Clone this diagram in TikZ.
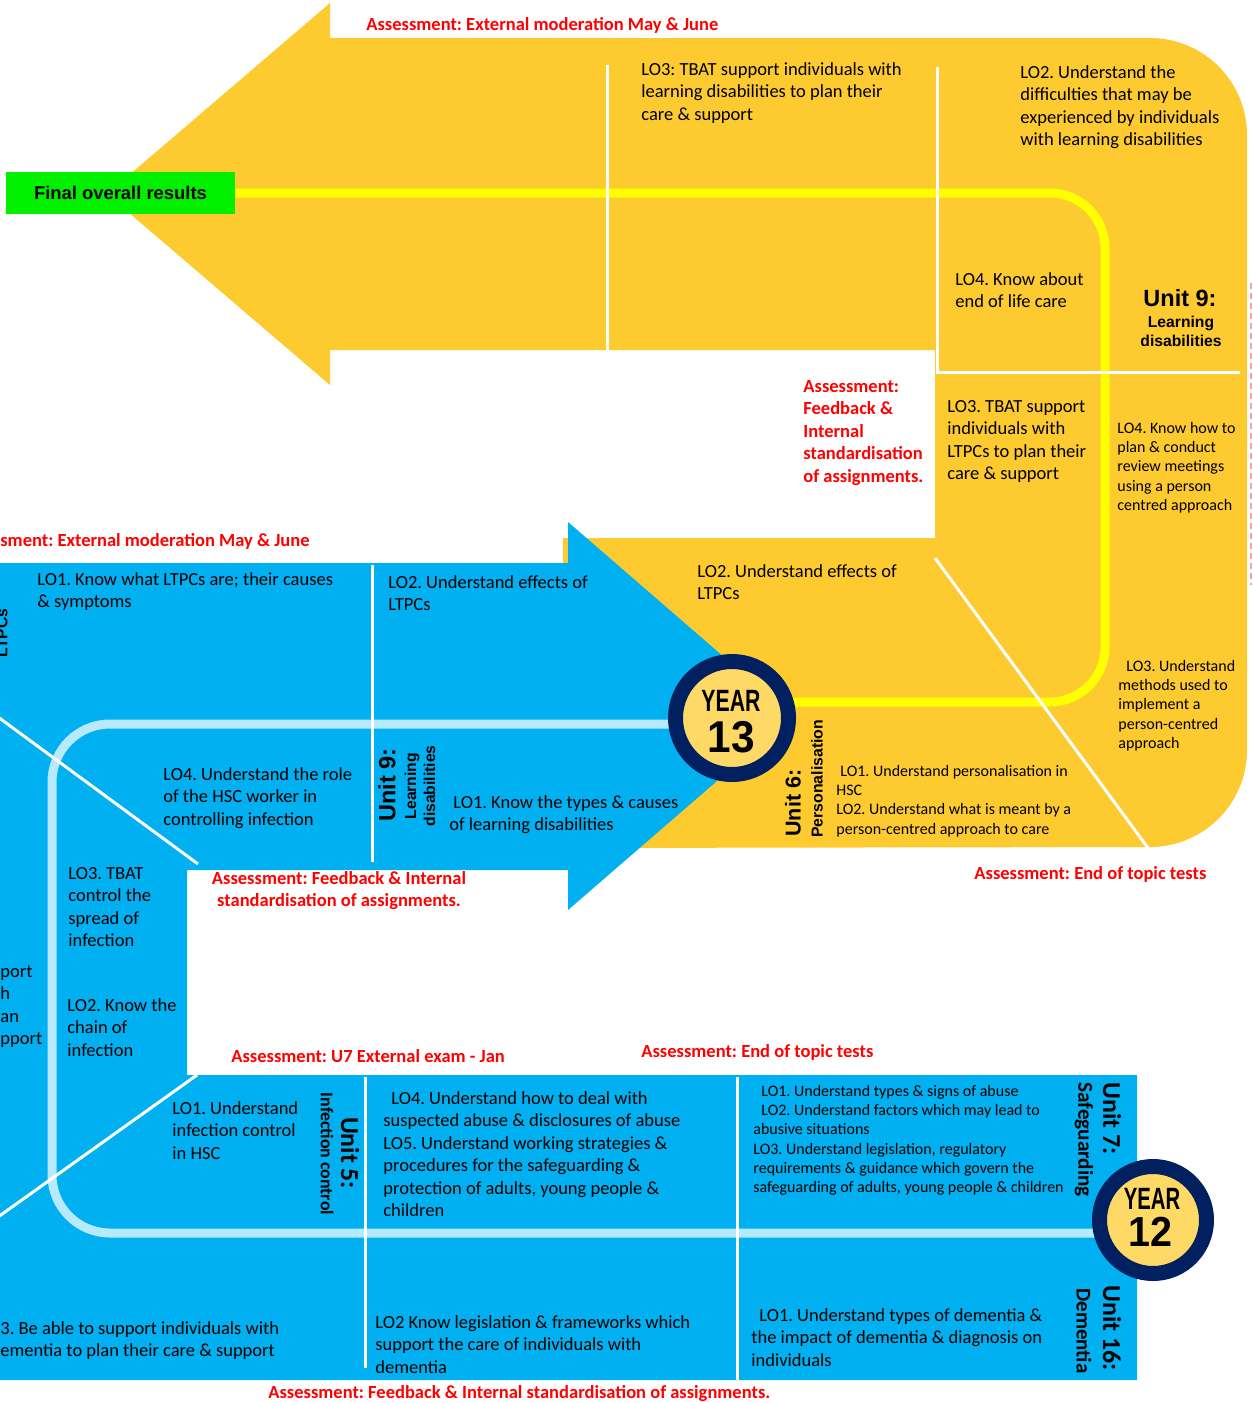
\documentclass[tikz,border=0pt]{standalone}
\usepackage{fontspec}
\setmainfont{Carlito}
\newfontfamily\arialf{Liberation Sans}
\definecolor{cyel}{RGB}{253,202,48}
\definecolor{cblue}{RGB}{0,176,240}
\definecolor{clblue}{RGB}{183,233,255}
\definecolor{cline}{RGB}{255,255,0}
\definecolor{cnavy}{RGB}{0,32,96}
\definecolor{cinner}{RGB}{255,217,102}
\definecolor{cred}{RGB}{255,0,0}
\definecolor{cgreen}{RGB}{0,240,0}
\definecolor{cpink}{RGB}{250,160,170}
\begin{document}
\frenchspacing
\begin{tikzpicture}[x=0.5pt,y=-0.5pt,
  lo/.style={anchor=north west, inner sep=0pt, align=left, font=\fontsize{9.25}{11.25}\selectfont},
  los/.style={anchor=north west, inner sep=0pt, align=left, font=\fontsize{8}{9.6}\selectfont},
  asmt/.style={anchor=north west, inner sep=0pt, align=left, text=cred, font=\bfseries\fontsize{9.25}{11.25}\selectfont},
  wline/.style={draw=white, line width=1.5pt},
  unitA/.style={inner sep=0pt, font=\arialf\bfseries\fontsize{11.75}{14}\selectfont},
  subA/.style={inner sep=0pt, align=center, font=\arialf\bfseries\fontsize{7.85}{9.5}\selectfont},
  unitC/.style={inner sep=0pt, font=\bfseries\fontsize{12.9}{15}\selectfont},
  subC/.style={inner sep=0pt, font=\bfseries\fontsize{10.6}{12}\selectfont},
  yearring/.style={circle, draw=cnavy, line width=7.5pt, fill=cinner, inner sep=0pt},
  yeartxt/.style={inner sep=0pt, font=\arialf\bfseries\fontsize{15.4}{16}\selectfont},
  numtxt/.style={inner sep=0pt, font=\arialf\bfseries\fontsize{22.3}{24}\selectfont},
]
\useasboundingbox (0,0) rectangle (1253,1403);
\clip (0,0) rectangle (1253,1403);
\coordinate (c13) at (732,718);
\coordinate (c12) at (1153,1220);

% yellow shape
\fill[cyel] (107,194) -- (330,3) -- (330,38) -- (1150,38)
  arc[start angle=-90, end angle=0, radius=97] -- (1247,750)
  arc[start angle=0, end angle=90, radius=97] -- (563,848) -- (563,538)
  -- (935,538) -- (935,350) -- (330,350) -- (330,385) -- cycle;

% blue shape
\fill[cblue] (-5,563) -- (568,563) -- (568,522) -- (792,716) -- (568,910)
  -- (568,870) -- (187,870) -- (187,1075) -- (1137,1075) -- (1137,1380)
  -- (-5,1380) -- cycle;

% faint dashed edge
\draw[cpink, line width=0.6pt, dash pattern=on 3pt off 2pt] (1251,283) -- (1251,585);

% green box
\node[fill=cgreen, minimum width=114.5pt, minimum height=21pt, inner sep=0pt,
  font=\arialf\bfseries\fontsize{9.2}{11}\selectfont] (fr) at (120.5,193) {Final overall results};

% pathway lines
\draw[cline, line width=4.5pt] (fr.east) -- (1050,193)
  arc[start angle=-90, end angle=0, radius=55] -- (1105,647)
  arc[start angle=0, end angle=90, radius=55] -- (c13 |- 0,702);
\draw[clblue, line width=4.5pt] (c13 |- 0,724) -- (110,724)
  arc[start angle=-90, end angle=-180, radius=58] -- (52,1175)
  arc[start angle=180, end angle=90, radius=58] -- (c12 |- 0,1233);

% white dividers
\draw[wline] (607,65) -- (607,350);
\draw[wline] (937,67) -- (937,372) -- (1240,372);
\draw[wline] (935,558) -- (1148,848);
\draw[wline] (372,565) -- (372,862);
\draw[wline] (-2,717) -- (198,864);
\draw[wline] (365,1077) -- (365,1368);
\draw[wline] (737,1077) -- (737,1380);
\draw[wline] (197,1075) -- (-2,1217);

% year circles
\node[yearring, minimum size=56.5pt] (y13) at (c13) {};
\node[yeartxt] (y13a) at (731,701) {\scalebox{0.69}[1]{YEAR}};
\node[numtxt] (y13b) at (731,737) {\scalebox{0.95}[1]{13}};
\node[yearring, minimum size=53.5pt] (y12) at (c12) {};
\node[yeartxt] (y12a) at (1152,1199) {\scalebox{0.66}[1]{YEAR}};
\node[numtxt, font=\arialf\bfseries\fontsize{21}{22}\selectfont] (y12b) at (1150,1232) {\scalebox{0.94}[1]{12}};

% ---- top (yellow) texts
\node[asmt] (a1) at (366,17) {Assessment: External moderation May \& June};
\node[lo] (t1) at (641,62) {LO3: TBAT support individuals with\\learning disabilities to plan their\\care \& support};
\node[lo] (t2) at (1020,65) {LO2. Understand the\\difficulties that may be\\experienced by individuals\\with learning disabilities};
\node[lo] (t3) at (955,272) {LO4. Know about\\end of life care};
\node[unitA] (u9t) at (1180,298) {Unit 9:};
\node[subA] (u9ts) at (1181,331) {Learning\\disabilities};
\node[asmt] (a2) at (803,380) {Assessment:\\Feedback \&\\Internal\\standardisation\\of assignments.};
\node[lo] (t4) at (947,400) {LO3. TBAT support\\individuals with\\LTPCs to plan their\\care \& support};
\node[los] (t5) at (1117,422) {LO4. Know how to\\plan \& conduct\\review meetings\\using a person\\centred approach};
\node[lo] (t6) at (697,564) {LO2. Understand effects of\\LTPCs};
\node[los] (t7) at (1118,660) {\hspace{4pt}LO3. Understand\\methods used to\\implement a\\person-centred\\approach};
\node[unitA, font=\arialf\bfseries\fontsize{10.75}{12}\selectfont, rotate=90, anchor=west] (u6) at (793,837) {Unit 6:};
\node[subA, font=\arialf\bfseries\fontsize{7.9}{9}\selectfont, rotate=90, anchor=west] (u6s) at (817,838) {Personalisation};
\node[los] (t8) at (836,765) {\hspace{2pt}LO1. Understand personalisation in\\HSC\\LO2. Understand what is meant by a\\person-centred approach to care};
\node[asmt] (a3) at (974,866) {Assessment: End of topic tests};

% ---- middle (blue) texts
\node[asmt, anchor=north east] (a4) at (310,533) {sment: External moderation May \& June};
\node[lo] (t9) at (37,572) {LO1. Know what LTPCs are; their causes\\\& symptoms};
\node[subA, rotate=90, anchor=south] (ltpc) at (8,633) {LTPCs};
\node[lo] (t10) at (388,575) {LO2. Understand effects of\\LTPCs};
\node[lo] (t11) at (163,767) {LO4. Understand the role\\of the HSC worker in\\controlling infection};
\node[unitA, rotate=90] (u9b) at (387,785) {Unit 9:};
\node[subA, rotate=90] (u9bs) at (420,786) {Learning\\disabilities};
\node[lo] (t12) at (449,795) {\hspace{2pt}LO1. Know the types \& causes\\of learning disabilities};
\node[asmt, anchor=north, align=center] (a5) at (339,871) {Assessment: Feedback \& Internal\\standardisation of assignments.};
\node[lo] (t13) at (68,867) {LO3. TBAT\\control the\\spread of\\infection};
\node[lo] (t14) at (0,965) {port\\h\\an\\pport};
\node[lo] (t15) at (67,998) {LO2. Know the\\chain of\\infection};

% ---- bottom (blue) texts
\node[asmt] (a6) at (231,1049) {Assessment: U7 External exam - Jan};
\node[asmt] (a7) at (641,1044) {Assessment: End of topic tests};
\node[lo] (t16) at (172,1101) {LO1. Understand\\infection control\\in HSC};
\node[unitC, rotate=-90] (u5) at (350,1153) {Unit 5:};
\node[subC, font=\bfseries\fontsize{8.9}{10}\selectfont, rotate=-90] (u5s) at (327,1154) {Infection control};
\node[lo] (t17) at (383,1091) {\hspace{4pt}LO4. Understand how to deal with\\suspected abuse \& disclosures of abuse\\LO5. Understand working strategies \&\\procedures for the safeguarding \&\\protection of adults, young people \&\\children};
\node[lo] (t18) at (375,1315) {LO2 Know legislation \& frameworks which\\support the care of individuals with\\dementia};
\node[lo] (t19) at (0,1321) {3. Be able to support individuals with\\ementia to plan their care \& support};
\node[los] (t20) at (753,1085) {\hspace{4pt}LO1. Understand types \& signs of abuse\\\hspace{4pt}LO2. Understand factors which may lead to\\abusive situations\\LO3. Understand legislation, regulatory\\requirements \& guidance which govern the\\safeguarding of adults, young people \& children};
\node[unitC, rotate=-90, anchor=west] (u7) at (1112,1082) {Unit 7:};
\node[subC, rotate=-90, anchor=west] (u7s) at (1084,1082) {Safeguarding};
\node[lo] (t21) at (751,1308) {\hspace{4pt}LO1. Understand types of dementia \&\\the impact of dementia \& diagnosis on\\individuals};
\node[unitC, rotate=-90, anchor=west] (u16) at (1112,1285) {Unit 16:};
\node[subC, font=\bfseries\fontsize{10.5}{12}\selectfont, rotate=-90, anchor=west] (u16s) at (1084,1288) {Dementia};
\node[asmt] (a8) at (268,1385) {Assessment: Feedback \& Internal standardisation of assignments.};
\end{tikzpicture}
\end{document}
